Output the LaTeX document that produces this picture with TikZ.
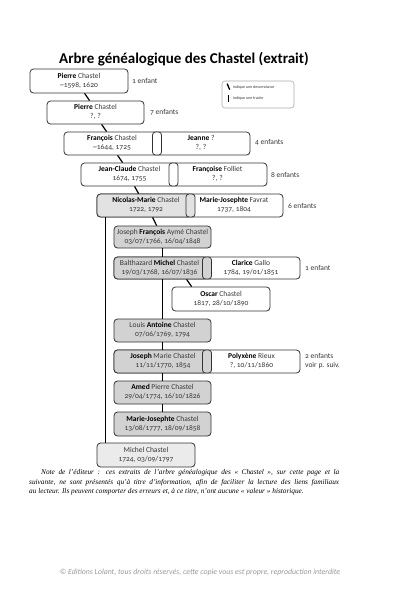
\documentclass[tikz,border=0pt]{standalone}
\usepackage{fontspec}
\setmainfont{Carlito}[Numbers=OldStyle]
\newfontfamily\notefont{Liberation Serif}
\definecolor{boxline}{HTML}{333333}
\definecolor{txt}{HTML}{383838}
\definecolor{fillA}{HTML}{E2E2E2}
\definecolor{fillB}{HTML}{D2D2D2}
\definecolor{fillC}{HTML}{EBEBEB}
\definecolor{legline}{HTML}{AAAAAA}
\definecolor{copyc}{HTML}{9A9A9A}
\tikzset{
  box/.style={draw=boxline, line width=0.8pt, rounded corners=3.5pt, inner sep=0pt, fill=white},
  sepbox/.style={box, rounded corners=3pt, minimum width=9pt},
  lbl/.style={font=\fontsize{7.5}{9}\selectfont, align=center, text=txt, inner sep=0pt},
  cnt/.style={font=\fontsize{7.5}{9}\selectfont, anchor=west, align=left, inner sep=0pt, text=txt},
  conn/.style={line width=1.2pt, black},
}
\newcommand\nm[1]{\textcolor{black}{\bfseries #1}}
\begin{document}
\begin{tikzpicture}[x=1pt,y=-1pt]
\useasboundingbox (0,0) rectangle (400,600);
\fill[white] (0,0) rectangle (400,600);

% title
\node[font=\fontsize{15}{18}\selectfont\bfseries, inner sep=0pt] (title) at (184,59) {Arbre généalogique des Chastel (extrait)};

% legend
\node[draw=legline, line width=0.6pt, rounded corners=3pt, minimum width=72pt, minimum height=27pt, inner sep=0pt] (leg) at (258,94.5) {};
\coordinate (la1) at ([xshift=5.5pt,yshift=-3pt]leg.north west);
\coordinate (la2) at ([xshift=8pt,yshift=-9pt]leg.north west);
\draw[line width=1.3pt] (la1) -- (la2);
\node[font=\fontsize{4}{5}\selectfont, anchor=west, inner sep=0pt, text=txt] (lt1) at ([xshift=11pt,yshift=-6.5pt]leg.north west) {Indique une descendance};
\coordinate (lb1) at ([xshift=7pt,yshift=-14.5pt]leg.north west);
\coordinate (lb2) at ([xshift=7pt,yshift=-21pt]leg.north west);
\draw[line width=1.3pt] (lb1) -- (lb2);
\node[font=\fontsize{4}{5}\selectfont, anchor=west, inner sep=0pt, text=txt] (lt2) at ([xshift=11pt,yshift=-18pt]leg.north west) {Indique une fratrie};

% generation 1
\node[box, minimum width=98pt, minimum height=24pt] (b1) at (79,81) {};
\node[lbl] (b1t) at (79,80.5) {\nm{Pierre} Chastel\\\textasciitilde1598, 1620};
\node[cnt] (b1c) at (132,81) {1 enfant};

% generation 2
\node[box, minimum width=97pt, minimum height=23pt] (b2) at (95.5,112.5) {};
\node[lbl] (b2t) at (95.5,112) {\nm{Pierre} Chastel\\?, ?};
\node[cnt] (b2c) at (150,112) {7 enfants};

% generation 3
\node[box, minimum width=186pt, minimum height=23pt] (b3) at (157,143.5) {};
\node[sepbox, minimum height=23pt] (b3s) at (157,143.5) {};
\node[lbl] (b3l) at (112,143) {\nm{François} Chastel\\\textasciitilde1644, 1725};
\node[lbl] (b3r) at (201,143) {\nm{Jeanne} ?\\?, ?};
\node[cnt] (b3c) at (255,142.5) {4 enfants};

% generation 4
\node[box, minimum width=186pt, minimum height=23pt] (b4) at (174,174.5) {};
\node[sepbox, minimum height=23pt] (b4s) at (173.5,174.5) {};
\node[lbl] (b4l) at (129.5,174) {\nm{Jean-Claude} Chastel\\1674, 1755};
\node[lbl] (b4r) at (217.5,174) {\nm{Françoise} Folliet\\?, ?};
\node[cnt] (b4c) at (271,174.5) {8 enfants};

% generation 5
\node[box, minimum width=186pt, minimum height=23pt] (b5) at (190,205.5) {};
\node[box, fill=fillA, minimum width=94pt, minimum height=23pt] (b5f) at (144,205.5) {};
\node[sepbox, fill=fillA, minimum height=23pt] (b5s) at (190.5,205.5) {};
\node[lbl] (b5l) at (146,205) {\nm{Nicolas-Marie} Chastel\\1722, 1792};
\node[lbl] (b5r) at (234,205) {\nm{Marie-Josephte} Favrat\\1737, 1804};
\node[cnt] (b5c) at (288,205.5) {6 enfants};

% children
\node[box, fill=fillB, minimum width=97pt, minimum height=22pt] (jf) at (162.5,237) {};
\node[lbl] (jft) at (162.5,236.5) {Joseph \nm{François} Aymé Chastel\\03/07/1766, 16/04/1848};

\node[box, minimum width=186pt, minimum height=22pt] (bm) at (207,268) {};
\node[box, fill=fillB, minimum width=93pt, minimum height=22pt] (bmf) at (160.5,268) {};
\node[sepbox, fill=fillB, minimum height=22pt] (bms) at (207,268) {};
\node[lbl] (bml) at (159.5,267.5) {Balthazard \nm{Michel} Chastel\\19/03/1768, 16/07/1836};
\node[lbl] (bmr) at (251,267.5) {\nm{Clarice} Gallo\\1784, 19/01/1851};
\node[cnt] (bmc) at (305,267.5) {1 enfant};

\node[box, minimum width=98pt, minimum height=24pt] (os) at (221,299) {};
\node[lbl] (ost) at (221,298.5) {\nm{Oscar} Chastel\\1817, 28/10/1890};

\node[box, fill=fillB, minimum width=97pt, minimum height=23pt] (la) at (162.5,330.5) {};
\node[lbl] (lat) at (162.5,330) {Louis \nm{Antoine} Chastel\\07/06/1769, 1794};

\node[box, minimum width=186pt, minimum height=23pt] (jm) at (207,361.5) {};
\node[box, fill=fillB, minimum width=93pt, minimum height=23pt] (jmf) at (160.5,361.5) {};
\node[sepbox, fill=fillB, minimum height=23pt] (jms) at (207,361.5) {};
\node[lbl] (jml) at (163,361) {\nm{Joseph} Marie Chastel\\11/11/1770, 1854};
\node[lbl] (jmr) at (251.5,361) {\nm{Polyxène} Rieux\\?, 10/11/1860};
\node[cnt] (jmc) at (305,361.5) {2 enfants\\voir p. suiv.};

\node[box, fill=fillB, minimum width=97pt, minimum height=23pt] (am) at (162.5,392.5) {};
\node[lbl] (amt) at (162.5,392) {\nm{Amed} Pierre Chastel\\29/04/1774, 16/10/1826};

\node[box, fill=fillB, minimum width=97pt, minimum height=24pt] (mj) at (162.5,424) {};
\node[lbl] (mjt) at (162.5,423.5) {\nm{Marie-Josephte} Chastel\\13/08/1777, 18/09/1858};

\node[box, fill=fillC, minimum width=98pt, minimum height=24pt] (mi) at (146,455) {};
\node[lbl] (mit) at (146,454.5) {Michel Chastel\\1724, 03/09/1797};

% descent connectors
\draw[conn] ([xshift=55pt]b1.south west) -- ([xshift=43pt]b2.north west);
\draw[conn] ([xshift=55pt]b2.south west) -- ([xshift=43pt]b3.north west);
\draw[conn] ([xshift=54pt]b3.south west) -- ([xshift=42pt]b4.north west);
\draw[conn] ([xshift=54pt]b4.south west) -- ([xshift=42pt]b5.north west);
\draw[conn] ([xshift=56pt]b5.south west) -- ([xshift=43pt]jf.north west);
\draw[conn] ([xshift=73pt]bm.south west) -- ([xshift=20pt]os.north west);

% sibling connectors
\draw[conn] ([xshift=9pt]b5.south west) -- ([xshift=9pt]mi.north west);
\draw[conn] ([xshift=49pt]jf.south west) -- ([xshift=49pt]bm.north west);
\draw[conn] ([xshift=49pt]bm.south west) -- ([xshift=49pt]la.north west);
\draw[conn] ([xshift=49pt]la.south west) -- ([xshift=49pt]jm.north west);
\draw[conn] ([xshift=49pt]jm.south west) -- ([xshift=49pt]am.north west);
\draw[conn] ([xshift=49pt]am.south west) -- ([xshift=49pt]mj.north west);

% note
\node[anchor=north west, text width=310pt, align=justify, inner sep=0pt, font=\notefont\itshape\fontsize{7.3}{9.5}\selectfont] (note) at (29,469.5) {\hspace*{12pt}Note de l’éditeur : ces extraits de l’arbre généalogique des «~Chastel~», sur cette page et la\linebreak suivante, ne sont présentés qu’à titre d’information, afin de faciliter la lecture des liens familiaux\linebreak au lecteur. Ils peuvent comporter des erreurs et, à ce titre, n’ont aucune «~valeur~» historique.};

% copyright
\node[font=\itshape\fontsize{7.8}{9}\selectfont, text=copyc, inner sep=0pt] (copy) at (200,572) {© Editions Lolant, tous droits réservés, cette copie vous est propre, reproduction interdite};
\end{tikzpicture}
\end{document}
